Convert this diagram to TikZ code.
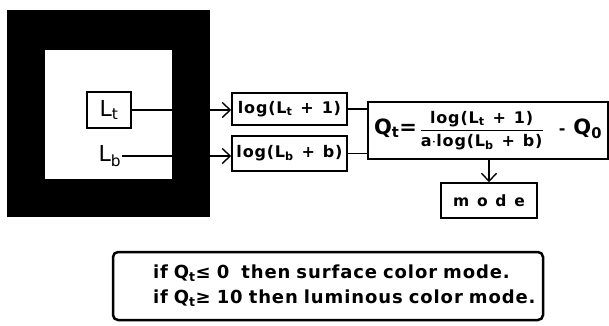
\documentclass[tikz,border=0pt]{standalone}
\usepackage{fontspec}
\setmainfont{DejaVu Sans}[LetterSpace=5,WordSpace=1.25]
\usepackage{amsmath}
\usetikzlibrary{arrows.meta}
\usetikzlibrary{positioning}
\tikzstyle{arr}=[-{Straight Barb[length=8pt,width=15pt]},draw=black,line width=1.4pt]
\tikzstyle{box}=[rectangle,draw,line width=1.5pt,inner sep=2pt]
\tikzstyle{lbl}=[font=\fontsize{16}{18}\selectfont\bfseries]

\begin{document}
\begin{tikzpicture}[x=1pt,y=-1pt]
    \useasboundingbox (0,0) rectangle (609,325);
    \fill[black] (7,10) rectangle (210,217);
    \fill[white] (45,50) rectangle (172,179);
    \node[box,minimum width=44,minimum height=36,font=\fontsize{22}{24}\selectfont] (Lt) at (109,110) {L\textsubscript{t}};
    \node[font=\fontsize{22}{24}\selectfont,inner sep=1pt] (Lb) at (110,156) {L\textsubscript{b}};
    \node[box,lbl,minimum width=115,minimum height=32,inner xsep=0pt] (logt) at (289.5,109) {log(L\textsubscript{t} + 1)};
    \node[box,lbl,minimum width=115,minimum height=35,inner xsep=0pt] (logb) at (289.5,153.5) {log(L\textsubscript{b} + b)};
    \node[box,lbl,minimum width=240,minimum height=57,inner xsep=1pt] (Q) at (488,130.5) {{\fontsize{21}{23}\selectfont Q\textsubscript{t}=}\,$\dfrac{\text{log(L\textsubscript{t} + 1)}}{\text{a$\cdot$log(L\textsubscript{b} + b)}}$\;\, - {\fontsize{21}{23}\selectfont Q\textsubscript{0}}};
    \node[box,minimum width=96,minimum height=35,font=\fontsize{15.5}{18}\selectfont\bfseries] (mode) at (489,200.5) {m o d e};
    \draw[arr] (Lt.east) -- (Lt.east -| logt.west);
    \draw[arr] (Lb.east) -- (Lb.east -| logb.west);
    \draw[line width=1.3pt] (logt.east) -- (logt.east -| Q.west);
    \draw[line width=1.3pt] (logb.east) -- (logb.east -| Q.west);
    \draw[arr] (mode.north |- Q.south) -- (mode.north);
    \node[draw,line width=2.5pt,rounded corners=5pt,minimum width=430,minimum height=68,inner sep=0pt,text width=430,align=left,font=\fontsize{18}{25}\selectfont\bfseries] (rule) at (328,286) {\hspace*{40pt}if Q\textsubscript{t}≤ 0~ then surface color mode.\\\hspace*{40pt}if Q\textsubscript{t}≥ 10 then luminous color mode.};
\end{tikzpicture}
\end{document}
